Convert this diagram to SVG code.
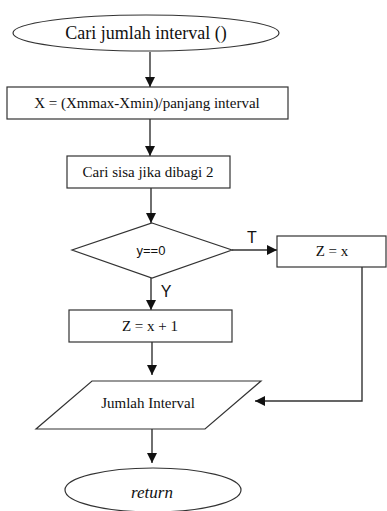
<svg xmlns="http://www.w3.org/2000/svg" width="387" height="511" viewBox="0 0 387 511">
<defs>
<marker id="ah" markerWidth="10" markerHeight="10" refX="10" refY="5" orient="auto" markerUnits="userSpaceOnUse">
<path d="M0,0 L10,5 L0,10 Z" fill="#111"/>
</marker>
<style>
.s{fill:#fff;stroke:#333;stroke-width:1.2}
.c{fill:none;stroke:#333;stroke-width:1.4;marker-end:url(#ah)}
.t{font-family:"Liberation Serif","Times New Roman",serif;font-size:15px;fill:#111;text-anchor:middle;dominant-baseline:central}
.a{font-family:"Liberation Sans",Arial,sans-serif;fill:#111;text-anchor:middle;dominant-baseline:central}
</style>
</defs>
<rect width="387" height="511" fill="#fff"/>
<g id="connectors">
<path class="c" d="M150,52 V87"/>
<path class="c" d="M150,119 V156"/>
<path class="c" d="M151,188 V223"/>
<path class="c" d="M232,250 H277"/>
<path class="c" d="M151,278 V310"/>
<path class="c" d="M152,342 V375"/>
<path class="c" d="M362,267 V401 H255"/>
<path class="c" d="M152,429 V463"/>
<text class="a" x="252" y="237" font-size="16">T</text>
<text class="a" x="166" y="291" font-size="16">Y</text>
</g>
<g id="start">
<ellipse class="s" cx="146" cy="33" rx="133" ry="18"/>
<text class="t" x="146" y="33" style="font-size:18px">Cari jumlah interval ()</text>
</g>
<g id="calcX">
<rect class="s" x="7" y="87" width="281" height="32"/>
<text class="t" x="147" y="103">X = (Xmmax-Xmin)/panjang interval</text>
</g>
<g id="sisa">
<rect class="s" x="67" y="156" width="163" height="32"/>
<text class="t" x="148" y="172">Cari sisa jika dibagi 2</text>
</g>
<g id="decision">
<polygon class="s" points="152,223 232,250 152,278 72,250"/>
<text class="a" x="151" y="250" font-size="13">y==0</text>
</g>
<g id="zx">
<rect class="s" x="277" y="236" width="109" height="31"/>
<text class="t" x="332" y="251">Z = x</text>
</g>
<g id="zx1">
<rect class="s" x="69" y="310" width="163" height="32"/>
<text class="t" x="150" y="326">Z = x + 1</text>
</g>
<g id="output">
<polygon class="s" points="92,381 261,381 205,429 36,429"/>
<text class="t" x="148" y="403">Jumlah Interval</text>
</g>
<g id="end">
<ellipse class="s" cx="153" cy="490" rx="88" ry="22"/>
<text class="t" x="152" y="492" style="font-size:17px;font-style:italic">return</text>
</g>
</svg>
